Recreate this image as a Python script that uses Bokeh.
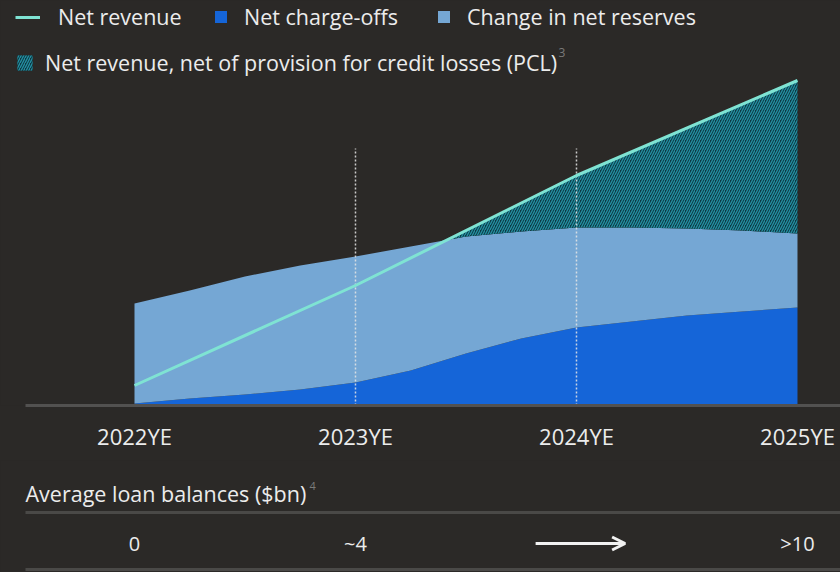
import numpy as np
from bokeh.plotting import figure
from bokeh.models import (Range1d, FixedTicker, Legend, LegendItem, Label,
                          Arrow, OpenHead, ColumnDataSource)
from bokeh.layouts import column
from bokeh.embed import file_html
from bokeh.resources import INLINE
from bokeh.core.properties import value

# ---------------- data ----------------
years = ["2022YE", "2023YE", "2024YE", "2025YE"]
year_pos = [0, 1, 2, 3]

# stacked areas sampled at quarter-year steps (index units)
area_t = [0, 0.25, 0.5, 0.75, 1, 1.25, 1.5, 1.75, 2, 2.25, 2.5, 2.75, 3]
net_charge_offs = [2, 7, 11, 16, 23, 35, 52, 67, 78, 84, 90, 94, 98]
total_losses = [102, 115, 129, 140, 149, 159, 169, 174, 178, 178, 177, 175, 172]
change_in_reserves = [tot - nco for tot, nco in zip(total_losses, net_charge_offs)]

# net revenue line
revenue_t = [0, 1, 2, 3]
net_revenue = [20, 120, 230, 325]

# average loan balances row
loan_labels = ["0", "~4", "", ">10"]
arrow_year = 2

# ---------------- style ----------------
BG = "#2b2927"
TXT = "#ececec"
GREY = "#7a7a7a"
RULE = "#4a4947"
C_NCO = "#1565d8"
C_RES = "#75a7d4"
C_LINE = "#7fe3d3"
C_HATCH_FILL = "#0e3944"
C_HATCH = "#2391a3"
FONT = "Open Sans"

x_lo, x_hi = -0.4932, 3.1946          # extent of the baseline / rules
x_full_lo = -0.6063                    # left edge of the page
xr = Range1d(x_full_lo, x_hi)

common = dict(output_backend="svg", toolbar_location=None, x_range=xr,
              min_border_left=0, min_border_right=0, min_border_top=0,
              background_fill_color=BG, border_fill_color=None, outline_line_color=None,
              styles={"background-color": BG})

p = figure(width=840, height=460, y_range=Range1d(0, 405), min_border_bottom=55, **common)
p.grid.visible = False
p.yaxis.visible = False

src = ColumnDataSource(dict(t=area_t, nco=net_charge_offs, res=change_in_reserves))
stack = p.varea_stack(stackers=["nco", "res"], x="t", source=src, color=[C_NCO, C_RES])

# hatched region: where net revenue exceeds total losses
rev_at = np.interp(area_t, revenue_t, net_revenue)
diff = rev_at - np.array(total_losses)
hx, h1, h2 = [], [], []
for i in range(len(area_t)):
    if i > 0 and diff[i - 1] < 0 <= diff[i]:
        f = -diff[i - 1] / (diff[i] - diff[i - 1])
        tc = area_t[i - 1] + f * (area_t[i] - area_t[i - 1])
        yc = total_losses[i - 1] + f * (total_losses[i] - total_losses[i - 1])
        hx.append(tc); h1.append(yc); h2.append(yc)
    if diff[i] >= 0:
        hx.append(area_t[i]); h1.append(total_losses[i]); h2.append(rev_at[i])
hatch = p.varea(x=hx, y1=h1, y2=h2, fill_color=C_HATCH_FILL, hatch_pattern="/",
                hatch_color=C_HATCH, hatch_scale=5, hatch_weight=1.3)

# dotted guides at 2023YE and 2024YE
guide_top = 257
p.segment(x0=[1, 2], y0=[0, 0], x1=[1, 2], y1=[guide_top, guide_top],
          line_color="#e6e6e6", line_dash="2 2", line_width=1.5, line_alpha=0.85)

line = p.line(revenue_t, net_revenue, line_color=C_LINE, line_width=3)

# axis
ax = p.xaxis[0]
ax.bounds = (x_lo, x_hi)
ax.ticker = FixedTicker(ticks=year_pos)
ax.major_label_overrides = {i: y for i, y in zip(year_pos, years)}
ax.major_tick_line_color = None
ax.minor_tick_line_color = None
ax.axis_line_color = "#525150"
ax.axis_line_width = 3
ax.major_label_text_color = TXT
ax.major_label_text_font = FONT
ax.major_label_text_font_size = "22px"
ax.major_label_standoff = 9

LEG_FS = "21.5px"


def mk_legend(item, loc, gw, gh, standoff):
    lg = Legend(items=[item], location=loc, orientation="horizontal",
                glyph_width=gw, glyph_height=gh, label_standoff=standoff,
                padding=0, margin=0, spacing=0,
                background_fill_alpha=0, border_line_alpha=0,
                label_text_color=TXT, label_text_font=FONT, label_text_font_size=LEG_FS)
    p.add_layout(lg)


mk_legend(LegendItem(label="Net revenue", renderers=[line]), (15, 374), 25, 24, 18)
mk_legend(LegendItem(label="Net charge-offs", renderers=[stack[0]]), (213, 374), 15, 15, 16)
mk_legend(LegendItem(label="Change in net reserves", renderers=[stack[1]]), (436, 374), 15, 15, 16)
mk_legend(LegendItem(label="Net revenue, net of provision for credit losses (PCL)",
                     renderers=[hatch]), (15, 328), 19, 19, 11)
p.add_layout(Label(x=558, y=349, x_units="screen", y_units="screen", text="3",
                   text_color=GREY, text_font=FONT, text_font_size="12px"))

# ---------------- bottom strip ----------------
b = figure(width=840, height=112, y_range=Range1d(0, 112), min_border_bottom=0, **common)
b.grid.visible = False
b.axis.visible = False

b.add_layout(Label(x=x_lo, y=79, text="Average loan balances ($bn)",
                   text_color=TXT, text_font=FONT, text_font_size="21.5px",
                   text_baseline="middle"))
b.add_layout(Label(x=309, y=87, x_units="screen", text="4", text_color=GREY,
                   text_font=FONT, text_font_size="11px", text_baseline="middle"))
b.segment(x0=[x_lo, x_lo], y0=[60, 3], x1=[x_hi, x_hi], y1=[60, 3],
          line_color=RULE, line_width=3)

lx = [year_pos[i] for i, s in enumerate(loan_labels) if s]
lt = [s for s in loan_labels if s]
b.text(x=lx, y=[29] * len(lx), text=lt, text_color=TXT, text_font=value(FONT),
       text_font_size="20px", text_align="center", text_baseline="middle")
b.add_layout(Arrow(x_start=arrow_year - 0.185, y_start=29, x_end=arrow_year + 0.22, y_end=29,
                   line_color="#f2f2f2", line_width=3,
                   end=OpenHead(size=13, line_color="#f2f2f2", line_width=3)))

layout = column(p, b, spacing=0, styles={"background-color": BG})
html = file_html(layout, INLINE)
css = "<style>html,body{margin:0;padding:0;background:%s !important;}</style>" % BG
html = html.replace("</head>", css + "</head>", 1)
open("out.html", "w").write(html)
